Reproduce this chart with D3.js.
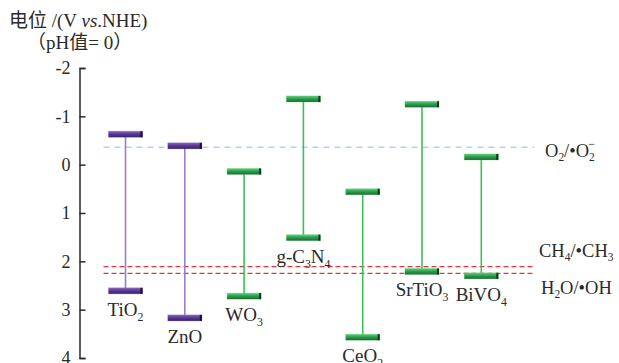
<!DOCTYPE html>
<html>
<head>
<meta charset="utf-8">
<script src="https://cdn.jsdelivr.net/npm/d3@7/dist/d3.min.js"></script>
<style>
  html, body { margin: 0; padding: 0; background: #fff; }
  svg { display: block; }
  text { font-family: "Liberation Serif", "Noto Sans CJK SC", serif; fill: #2a2a2a; }
</style>
</head>
<body>
<svg id="chart" width="619" height="363"></svg>
<script>
// Band-edge potentials (V vs. NHE, pH = 0) of common photocatalysts
const categories = ["TiO2", "ZnO", "WO3", "g-C3N4", "CeO2", "SrTiO3", "BiVO4"];
const conductionBand = [-0.63, -0.39, 0.14, -1.36, 0.56, -1.25, -0.16];
const valenceBand = [2.61, 3.17, 2.72, 1.51, 3.57, 2.21, 2.30];
const materialGroup = ["oxide-a", "oxide-a", "b", "b", "b", "b", "b"];

// Redox reference potentials
const refLabels = ["O2/•O2", "CH4/•CH3", "H2O/•OH"];
const refPotentials = [-0.36, 2.11, 2.25];
const refKinds = ["blue", "red", "red"];

const yTicks = [-2, -1, 0, 1, 2, 3, 4];

const svg = d3.select("#chart");

const y = d3.scaleLinear().domain([-2, 4]).range([68, 358]);
const x = d3.scalePoint().domain(categories).range([125.5, 481.3]);

const palette = {
  "oxide-a": { line: "#9a7ec6", top: "#8a68c0", mid: "#5a3a94", bot: "#3a2168", end: "#1b0d36" },
  "b": { line: "#3dbf5c", top: "#5fd07b", mid: "#2fa04e", bot: "#1a6a33", end: "#0b3a1a" }
};

const defs = svg.append("defs");
Object.entries(palette).forEach(([k, c]) => {
  const g = defs.append("linearGradient").attr("id", "grad-" + k)
    .attr("x1", 0).attr("y1", 0).attr("x2", 0).attr("y2", 1);
  g.append("stop").attr("offset", "0%").attr("stop-color", c.top);
  g.append("stop").attr("offset", "45%").attr("stop-color", c.mid);
  g.append("stop").attr("offset", "100%").attr("stop-color", c.bot);
});

// Write a chemical formula with digits set as subscripts
function formula(sel, str, size, sub) {
  const parts = str.match(/\d+|\D+/g);
  let down = false;
  parts.forEach(p => {
    const isNum = /^\d+$/.test(p);
    const t = sel.append("tspan").text(p);
    if (isNum) {
      t.attr("font-size", size * 0.62).attr("dy", down ? 0 : sub);
      down = true;
    } else {
      t.attr("font-size", size).attr("dy", down ? -sub : 0);
      down = false;
    }
  });
}

// y axis
const axis = d3.axisLeft(y).tickValues(yTicks).tickSize(-6).tickPadding(9)
  .tickFormat(d => (d < 0 ? "-" : "") + Math.abs(d));
const gAxis = svg.append("g").attr("transform", "translate(79.5,0)").call(axis);
gAxis.select(".domain").attr("stroke", "#2b2b2b").attr("stroke-width", 1.5);
gAxis.selectAll(".tick line").attr("stroke", "#2b2b2b").attr("stroke-width", 1.5);
gAxis.selectAll(".tick text").attr("font-size", 18)
  .attr("font-family", "Liberation Serif").attr("fill", "#2a2a2a");

// axis title
const title = svg.append("text").attr("x", 9).attr("y", 27).attr("font-size", 19);
title.append("tspan").text("电位 /(V ");
title.append("tspan").attr("font-style", "italic").text("vs");
title.append("tspan").text(".NHE)");
svg.append("text").attr("x", 27).attr("y", 49).attr("font-size", 19)
  .text("（pH值= 0）");

// reference potential lines
const lineX0 = x(categories[0]) - 22;
const lineX1 = x(categories[categories.length - 1]) + 53;
svg.selectAll("line.ref").data(refPotentials).join("line")
  .attr("class", "ref")
  .attr("x1", lineX0).attr("x2", lineX1)
  .attr("y1", d => y(d)).attr("y2", d => y(d))
  .attr("stroke", (d, i) => refKinds[i] === "blue" ? "#b3d3ea" : "#e8343c")
  .attr("stroke-width", (d, i) => refKinds[i] === "blue" ? 1.4 : 1.1)
  .attr("stroke-dasharray", (d, i) => refKinds[i] === "blue" ? "6,5" : "5,3");

// labels of reference lines
const refOffsets = [10, -10, 21];
const refX = [545, 539, 541];
refLabels.forEach((lab, i) => {
  const t = svg.append("text").attr("x", refX[i]).attr("y", y(refPotentials[i]) + refOffsets[i]);
  formula(t, lab, 18.5, 4);
  if (i === 0) {
    t.append("tspan").attr("font-size", 12).attr("dx", -6.5).attr("dy", -13).text("−");
  }
});

// band gap connectors
const bands = categories.map((c, i) => ({
  name: c, cb: conductionBand[i], vb: valenceBand[i], group: materialGroup[i]
}));

svg.selectAll("line.gap").data(bands).join("line")
  .attr("class", "gap")
  .attr("x1", d => x(d.name)).attr("x2", d => x(d.name))
  .attr("y1", d => y(d.cb)).attr("y2", d => y(d.vb))
  .attr("stroke", d => palette[d.group].line).attr("stroke-width", 1.6);

// band edge bars
const barW = 34, barH = 6;
const edges = bands.flatMap(d => [{ d, v: d.cb }, { d, v: d.vb }]);
const eg = svg.selectAll("g.edge").data(edges).join("g").attr("class", "edge")
  .attr("transform", e => `translate(${x(e.d.name) - barW / 2},${y(e.v) - barH / 2})`);
eg.append("rect").attr("x", -0.5).attr("y", -0.5).attr("width", barW + 1).attr("height", barH + 1)
  .attr("fill", e => palette[e.d.group].top).attr("opacity", 0.35);
eg.append("rect").attr("width", barW).attr("height", barH)
  .attr("fill", e => `url(#grad-${e.d.group})`);
eg.append("rect").attr("x", barW - 2).attr("width", 2).attr("height", barH)
  .attr("fill", e => palette[e.d.group].end);

// material names below the valence band edge
bands.forEach(d => {
  const t = svg.append("text").attr("x", x(d.name)).attr("y", y(d.vb) + 25)
    .attr("text-anchor", "middle");
  formula(t, d.name, 19, 5);
});
</script>
</body>
</html>
